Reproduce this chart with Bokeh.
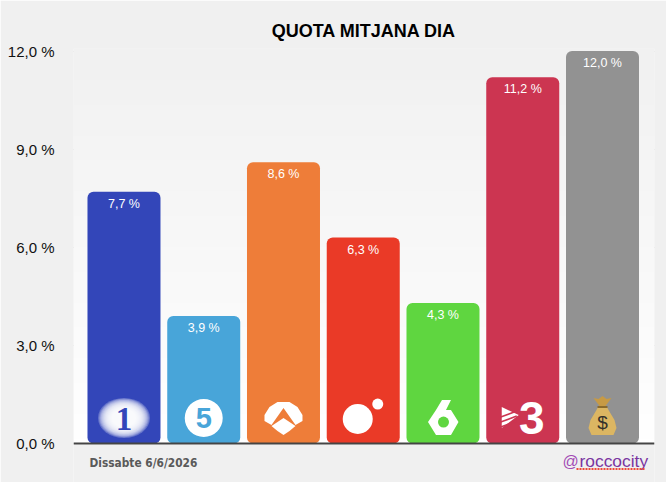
import numpy as np
from bokeh.plotting import figure
from bokeh.models import Span, FixedTicker, Range1d
from bokeh.core.properties import value
from bokeh.embed import file_html
from bokeh.resources import INLINE

title = "QUOTA MITJANA DIA"
channels = ["La 1", "Telecinco", "Antena 3", "Cuatro", "laSexta", "3Cat", "Altres"]
quota = [7.7, 3.9, 8.6, 6.3, 4.3, 11.2, 12.0]
quota_labels = ["7,7 %", "3,9 %", "8,6 %", "6,3 %", "4,3 %", "11,2 %", "12,0 %"]
colors = ["#3346b9", "#48a5d9", "#ee7d39", "#ea3a27", "#5fd640", "#cc3551", "#929292"]
tick_values = [0, 3, 6, 9, 12]
tick_labels = ["0,0 %", "3,0 %", "6,0 %", "9,0 %", "12,0 %"]
date_text = "Dissabte 6/6/2026"
credit_at = "@"
credit_name = "roccocity"

PX_X, PX_Y = 79.75, 32.7          # pixels per category / per value unit
LOGO_Y = 0.78
X0, X1, Y_LOW, Y_TOP = -0.633, 6.652, -1.192, 12.08

p = figure(width=666, height=482, output_backend="svg", toolbar_location=None,
           frame_width=581, frame_height=434,
           x_range=Range1d(X0, X1), y_range=Range1d(Y_LOW, Y_TOP),
           min_border_left=73, min_border_right=12, min_border_top=48, min_border_bottom=0,
           background_fill_color="#f0f0f0", border_fill_color="#f0f0f0", outline_line_color=None)

p.title.text = title
p.title.align = "center"
p.title.text_font = "Liberation Sans"
p.title.text_font_size = "18px"
p.title.text_color = "#000000"
p.title.standoff = 15

# soft plot background
n = 64
shade = np.linspace(255, 241, n).astype(np.uint32)
img = (255 << 24) | (shade << 16) | (shade << 8) | shade
p.image_rgba(image=[img.reshape(n, 1)], x=X0, y=-0.03, dw=X1 - X0, dh=Y_TOP + 0.03)

p.xaxis.visible = False
p.xgrid.visible = False
p.ygrid.ticker = FixedTicker(ticks=tick_values)
p.ygrid.grid_line_color = "#c9c9c9"
p.ygrid.grid_line_width = 1
p.ygrid.level = "image"
ax = p.yaxis[0]
ax.ticker = FixedTicker(ticks=tick_values)
ax.major_label_overrides = dict(zip(tick_values, tick_labels))
ax.axis_line_color = None
ax.major_tick_line_color = None
ax.minor_tick_line_color = None
ax.major_tick_out = 0
ax.major_tick_in = 0
ax.major_label_standoff = 19
ax.major_label_text_font = "Liberation Sans"
ax.major_label_text_font_size = "15px"
ax.major_label_text_color = "#111111"

xs = list(range(len(channels)))
p.vbar(x=xs, top=quota, bottom=0, width=73 / PX_X, fill_color=colors, line_color=None,
       border_radius=6)
p.text(x=xs, y=quota, text=quota_labels, text_color="#ffffff", text_align="center",
       text_baseline="middle", y_offset=12, text_font=value("Liberation Sans"),
       text_font_size="12.5px")
p.add_layout(Span(location=0, dimension="width", line_color="#444444", line_width=2))


def px(i, dx, dy):
    """Logo-local pixel offsets -> data coordinates."""
    return [i + a / PX_X for a in dx], [LOGO_Y - b / PX_Y for b in dy]


def shape(i, pts, color="#ffffff"):
    x, y = px(i, [a for a, _ in pts], [b for _, b in pts])
    p.patch(x, y, fill_color=color, line_color=None)


def disc(i, dx, dy, w, h, color="#ffffff", alpha=1.0):
    x, y = px(i, [dx], [dy])
    p.ellipse(x, y, width=w, height=h, width_units="screen", height_units="screen",
              fill_color=color, fill_alpha=alpha, line_color=None)


def mark(i, dx, dy, txt, size, color, style="bold", font="Liberation Sans"):
    x, y = px(i, [dx], [dy])
    p.text(x, y, text=[txt], text_align="center", text_baseline="middle", text_color=color,
           text_font=value(font), text_font_size=size, text_font_style=style)


# La 1
for k in range(14):
    disc(0, 0, 0, 52 - 2.2 * k, 40 - 1.7 * k, alpha=0.24)
mark(0, 0, 1, "1", "33px", colors[0], font="Liberation Serif")

# Telecinco
disc(1, 0, 0, 38, 38)
mark(1, 0, 0, "5", "29px", colors[1])

# Antena 3
shape(2, [(-6, -16), (6, -16), (14, -11), (19, -3), (19, 3), (12, 7), (0, -10),
          (-12, 7), (-19, 3), (-19, -3), (-14, -11)])
shape(2, [(0, 0), (12, 8), (6, 13), (0, 17), (-6, 13), (-12, 8)])

# Cuatro
disc(3, -5.5, 1, 30, 30)
disc(3, 14.5, -14, 11, 11)

# laSexta
shape(4, [(-15, 4), (-7, -8), (-1, -18), (8, -18), (3, -8), (8, -8), (15.5, 4),
          (8, 17), (-7, 17)])
disc(4, 0.5, 4, 11, 11, color=colors[4])

# 3Cat
shape(5, [(-21, -11), (-4, -3), (-21, 10)])
for dy0 in (-4, 1, 6):
    x, y = px(5, [-22, -6], [dy0 + 3, dy0 - 3])
    p.line(x, y, line_color=colors[5], line_width=1.6)
mark(5, 9, 0, "3", "46px", "#ffffff")

# money bag
shape(6, [(-3, -12), (-9, -20), (-4, -19), (0, -22), (4, -19), (9, -20), (3, -12)], "#c79a45")
shape(6, [(-4, -12), (4, -12), (6, -8), (12, 2), (14, 10), (11, 17), (-11, 17), (-14, 10),
          (-12, 2), (-6, -8)], "#dcb662")
shape(6, [(-5, -12), (5, -12), (5, -10), (-5, -10)], "#8a6a2c")
mark(6, 0, 4, "$", "19px", "#33302a", style="normal")


# footer: pixel position on the page -> data coordinates
def page(x_px, y_px):
    return (x_px - 123.5) / PX_X, (443.5 - y_px) / PX_Y


def foot(x_px, y_px, txt, font, size, color, style="normal"):
    x, y = page(x_px, y_px)
    p.text([x], [y], text=[txt], text_baseline="middle", text_color=color,
           text_font=value(font), text_font_size=size, text_font_style=style)


foot(89, 463, date_text, "DejaVu Sans Condensed", "11.8px", "#5a5a5a", "bold")
foot(562, 461, credit_at, "Liberation Sans", "16px", "#a24bb5")
foot(579, 461, credit_name, "Liberation Sans", "17.4px", "#7a35a0")
ux0, uy = page(576, 469)
ux1, _ = page(645, 469)
p.line([ux0, ux1], [uy, uy], line_color="#ee4a3a", line_width=2, line_dash="2 1")

open("out.html", "w").write(file_html(p, INLINE))
